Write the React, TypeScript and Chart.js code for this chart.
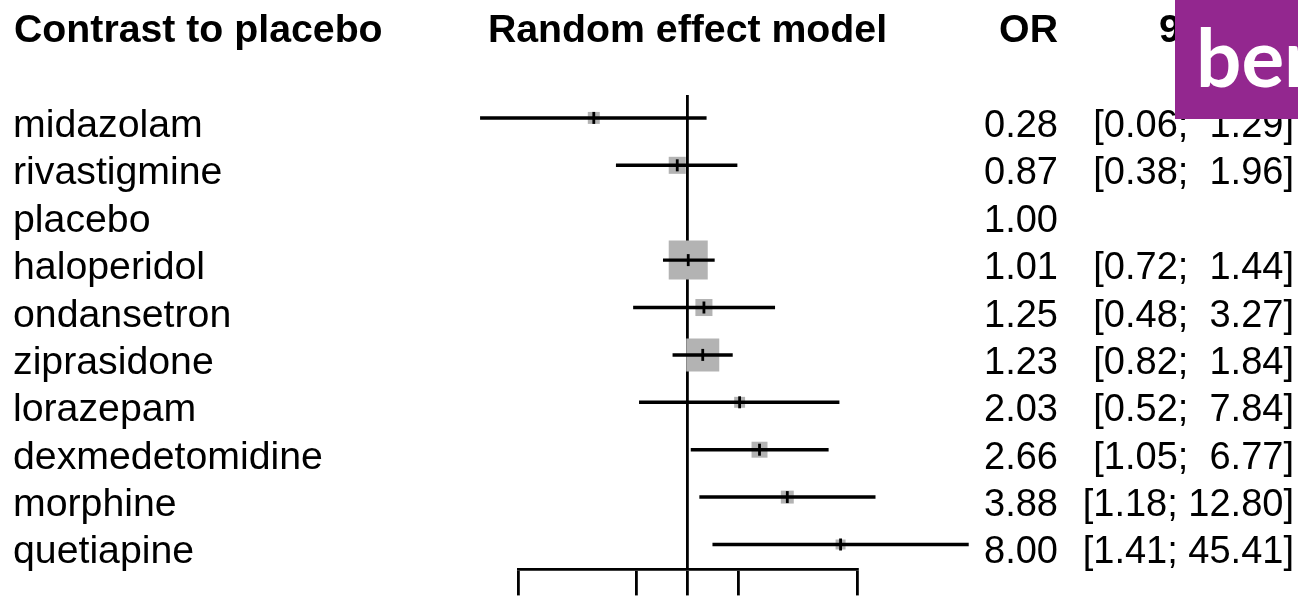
import React, { useEffect, useRef } from "react";
import { Chart, registerables } from "chart.js";

Chart.register(...registerables);

// ---- data ----
const DRUGS = [
  "midazolam",
  "rivastigmine",
  "placebo",
  "haloperidol",
  "ondansetron",
  "ziprasidone",
  "lorazepam",
  "dexmedetomidine",
  "morphine",
  "quetiapine",
];
const OR = [0.28, 0.87, 1.0, 1.01, 1.25, 1.23, 2.03, 2.66, 3.88, 8.0];
const CI_LOW: (number | null)[] = [0.06, 0.38, null, 0.72, 0.48, 0.82, 0.52, 1.05, 1.18, 1.41];
const CI_HIGH: (number | null)[] = [1.29, 1.96, null, 1.44, 3.27, 1.84, 7.84, 6.77, 12.8, 45.41];
// relative weights (%), square area proportional to weight
const WEIGHTS = [3.6, 7.3, 0, 38.2, 7.3, 27.4, 3.0, 6.4, 4.2, 2.5];
const AXIS_TICKS = [0.1, 0.5, 1, 2, 10];
const HEADERS = ["Contrast to placebo", "Random effect model", "OR", "95%-CI"];
const BADGE_TEXT = "ber";

const FONT = "'Liberation Sans', Arial, sans-serif";
const SX_TEXT = 1.033; // slight horizontal stretch of the source image (word labels)
const SX_NUM = 1.0;

function ciLabel(i: number): string {
  const widths = CI_HIGH.filter((v) => v != null).map((v) => (v as number).toFixed(2).length);
  const w = Math.max(...widths);
  return `[${(CI_LOW[i] as number).toFixed(2)}; ${(CI_HIGH[i] as number).toFixed(2).padStart(w, " ")}]`;
}

function drawText(
  c: CanvasRenderingContext2D,
  text: string,
  x: number,
  y: number,
  align: CanvasTextAlign,
  sx: number
) {
  c.save();
  c.translate(x, y);
  c.scale(sx, 1);
  c.textAlign = align;
  c.fillText(text, 0, 0);
  c.restore();
}

export default function App() {
  const ref = useRef<HTMLCanvasElement>(null);

  useEffect(() => {
    const canvas = ref.current;
    if (!canvas) return;
    const rows = DRUGS.map((_, i) => i);
    const withCI = rows.filter((i) => CI_LOW[i] != null);
    const withW = rows.filter((i) => WEIGHTS[i] > 0);
    const sideScale = 6.31;
    const LW = 2.8;

    const textPlugin = {
      id: "forestText",
      afterDraw(chart: any) {
        const c = chart.ctx as CanvasRenderingContext2D;
        const ys = chart.scales.y;
        const xs = chart.scales.x;
        c.save();
        c.fillStyle = "#000";
        c.textBaseline = "alphabetic";
        c.font = `bold 38px ${FONT}`;
        drawText(c, HEADERS[0], 14, 42, "left", SX_TEXT);
        drawText(c, HEADERS[1], xs.getPixelForValue(1), 42, "center", SX_TEXT);
        drawText(c, HEADERS[2], 1058, 42, "right", SX_TEXT);
        drawText(c, HEADERS[3], 1159, 42, "left", SX_TEXT);

        c.font = `38px ${FONT}`;
        DRUGS.forEach((d, i) => {
          const py = ys.getPixelForValue(i) + 19;
          drawText(c, d, 13, py, "left", SX_TEXT);
          drawText(c, OR[i].toFixed(2), 1058, py, "right", SX_NUM);
          if (CI_LOW[i] != null) drawText(c, ciLabel(i), 1294, py, "right", SX_NUM);
        });

        // overlay badge
        c.fillStyle = "#93278f";
        c.fillRect(1175, 0, 123, 119);
        c.fillStyle = "#ffffff";
        c.font = `bold 80px Lato, 'Open Sans', sans-serif`;
        c.textAlign = "left";
        c.fillText(BADGE_TEXT, 1196, 87);
        c.restore();
      },
    };

    const chart = new Chart(canvas, {
      type: "scatter",
      data: {
        datasets: [
          {
            type: "bar",
            label: "95%-CI",
            indexAxis: "y",
            data: withCI.map((i) => ({ x: [CI_LOW[i], CI_HIGH[i]], y: i })),
            backgroundColor: "#000",
            borderWidth: 0,
            barThickness: LW,
            clip: false,
            order: 2,
          } as any,
          {
            type: "scatter",
            label: "weight",
            data: withW.map((i) => ({ x: OR[i], y: i })),
            pointStyle: "rect",
            pointRadius: withW.map((i) => (sideScale * Math.sqrt(WEIGHTS[i])) / Math.SQRT2),
            pointHoverRadius: withW.map((i) => (sideScale * Math.sqrt(WEIGHTS[i])) / Math.SQRT2),
            backgroundColor: "#b3b3b3",
            borderWidth: 0,
            clip: false,
            order: 3,
          } as any,
          {
            type: "scatter",
            label: "OR",
            data: withCI.map((i) => ({ x: OR[i], y: i })),
            pointStyle: "line",
            rotation: 90,
            pointRadius: 6,
            borderColor: "#000",
            borderWidth: LW,
            clip: false,
            order: 1,
          } as any,
        ],
      },
      options: {
        animation: false,
        responsive: false,
        events: [],
        layout: { padding: { left: 518, right: 441, top: 95, bottom: 0 } },
        plugins: { legend: { display: false }, tooltip: { enabled: false } },
        scales: {
          x: {
            type: "logarithmic",
            min: 0.1,
            max: 10,
            position: "bottom",
            offset: false,
            beginAtZero: false,
            afterBuildTicks: (s: any) => {
              s.ticks = AXIS_TICKS.map((v) => ({ value: v }));
            },
            ticks: { display: false },
            grid: {
              offset: false,
              drawOnChartArea: true,
              color: (ctx: any) => (ctx.tick && ctx.tick.value === 1 ? "#000" : "rgba(0,0,0,0)"),
              lineWidth: LW,
              tickColor: "#000",
              tickWidth: LW,
              tickLength: 26,
              drawTicks: true,
            },
            border: { display: true, color: "#000", width: LW },
          },
          y: {
            type: "linear",
            reverse: true,
            min: -0.4836,
            max: 9.526,
            offset: false,
            grid: { offset: false },
            display: false,
          },
        },
      } as any,
      plugins: [textPlugin],
    });

    return () => chart.destroy();
  }, []);

  return (
    <div style={{ position: "absolute", left: 0, top: 0, width: 1298, height: 597, background: "#fff" }}>
      <canvas ref={ref} width={1298} height={597} style={{ display: "block" }} />
    </div>
  );
}
